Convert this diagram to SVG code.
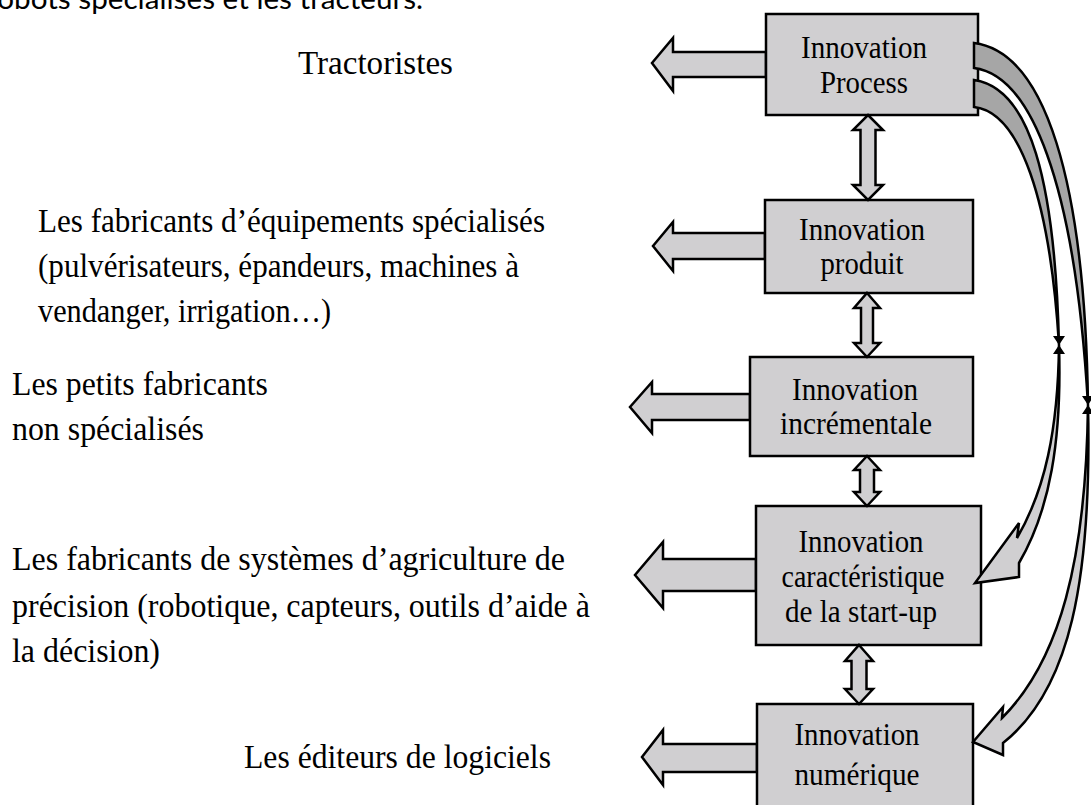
<svg xmlns="http://www.w3.org/2000/svg" width="1091" height="805" viewBox="0 0 1091 805">
<style>
.box{fill:#d0cfd1;stroke:#000;stroke-width:2.5}
.arr{fill:#d0cfd1;stroke:#000;stroke-width:2.5;stroke-linejoin:miter}
.back{fill:#a6a6a6;stroke:#000;stroke-width:2.5;stroke-linejoin:miter}
.tie{fill:#000;stroke:none}
.lbl{font-family:"Liberation Serif","Times New Roman",serif;font-size:32px;text-anchor:middle;fill:#000}
.side{font-family:"Liberation Serif","Times New Roman",serif;font-size:34px;fill:#000}
.top{font-family:Lato,"Liberation Sans",sans-serif;font-size:29px;fill:#000}
</style>
<rect width="1091" height="805" fill="#fff"/>
<text class="top" x="-13" y="9" textLength="436" lengthAdjust="spacingAndGlyphs">robots spécialisés et les tracteurs.</text>

<g id="connectors">
  <path class="arr" d="M766,52 H673 V38 L652,63 L673,91 V77 H766 Z"/>
  <path class="arr" d="M765,233 H673 V222 L653,246 L673,271 V259 H765 Z"/>
  <path class="arr" d="M750,394 H652 V382 L630,407 L652,433 V420 H750 Z"/>
  <path class="arr" d="M756,559 H663 V542 L635,575 L663,608 V591 H756 Z"/>
  <path class="arr" d="M757,744 H663 V730 L642,757 L663,785 V772 H757 Z"/>
</g>

<g id="n1">
  <rect class="box" x="766" y="14" width="212" height="101"/>
  <text class="lbl" x="864" y="58" textLength="126" lengthAdjust="spacingAndGlyphs">Innovation</text>
  <text class="lbl" x="864" y="93" textLength="88" lengthAdjust="spacingAndGlyphs">Process</text>
</g>
<g id="n2">
  <rect class="box" x="765" y="200" width="208" height="93"/>
  <text class="lbl" x="862" y="240" textLength="126" lengthAdjust="spacingAndGlyphs">Innovation</text>
  <text class="lbl" x="862" y="274" textLength="83" lengthAdjust="spacingAndGlyphs">produit</text>
</g>
<g id="n3">
  <rect class="box" x="750" y="357" width="223" height="99"/>
  <text class="lbl" x="855" y="400" textLength="126" lengthAdjust="spacingAndGlyphs">Innovation</text>
  <text class="lbl" x="856" y="434" textLength="152" lengthAdjust="spacingAndGlyphs">incrémentale</text>
</g>
<g id="n4">
  <rect class="box" x="756" y="506" width="225" height="139"/>
  <text class="lbl" x="861" y="552" textLength="125" lengthAdjust="spacingAndGlyphs">Innovation</text>
  <text class="lbl" x="863" y="587" textLength="163" lengthAdjust="spacingAndGlyphs">caractéristique</text>
  <text class="lbl" x="861" y="622" textLength="152" lengthAdjust="spacingAndGlyphs">de la start-up</text>
</g>
<g id="n5">
  <rect class="box" x="757" y="704" width="216" height="110"/>
  <text class="lbl" x="857" y="745" textLength="125" lengthAdjust="spacingAndGlyphs">Innovation</text>
  <text class="lbl" x="857" y="785" textLength="125" lengthAdjust="spacingAndGlyphs">numérique</text>
</g>

<g id="links">
  <path class="arr" d="M868,115 L883,130 H875.5 V185 H883 L868,200 L853,185 H860.5 V130 H853 Z"/>
  <path class="arr" d="M867,293 L880,308 H873 V343 H880 L867,357 L854,343 H861 V308 H854 Z"/>
  <path class="arr" d="M867,456 L880,470 H874 V492 H880 L867,506 L854,492 H860 V470 H854 Z"/>
  <path class="arr" d="M859,645 L873,661 H866.5 V689 H873 L859,704 L845,689 H851.5 V661 H845 Z"/>

  <path class="back" d="M974,43 C1045,52 1085,180 1088,405 C1075,180 1030,75 974,68 Z"/>
  <path class="arr" d="M1088,405 C1092,580 1070,690 1003,743 L1003,755 L973,742 L1003,707 L1002,718 C1060,660 1086,560 1088,405 Z"/>
  <path class="back" d="M974,80 C1030,88 1055,180 1059,345 C1050,200 1020,112 974,107 Z"/>
  <path class="arr" d="M1059,345 C1062,440 1050,510 1019,563 L1019,577 L975,583 L1019,523 L1017,538 C1045,490 1058,430 1059,345 Z"/>
  <path class="tie" d="M1053,336 H1065 L1059,345 Z M1053,354 H1065 L1059,345 Z"/>
  <path class="tie" d="M1082,396 H1094 L1088,405 Z M1082,414 H1094 L1088,405 Z"/>
</g>

<g id="t1"><text class="side" x="298" y="74" textLength="155" lengthAdjust="spacingAndGlyphs">Tractoristes</text></g>
<g id="t2">
  <text class="side" x="38" y="232" textLength="507" lengthAdjust="spacingAndGlyphs">Les fabricants d’équipements spécialisés</text>
  <text class="side" x="38" y="277" textLength="481" lengthAdjust="spacingAndGlyphs">(pulvérisateurs, épandeurs, machines à</text>
  <text class="side" x="38" y="322" textLength="293" lengthAdjust="spacingAndGlyphs">vendanger, irrigation…)</text>
</g>
<g id="t3">
  <text class="side" x="12" y="395" textLength="256" lengthAdjust="spacingAndGlyphs">Les petits fabricants</text>
  <text class="side" x="12" y="440" textLength="192" lengthAdjust="spacingAndGlyphs">non spécialisés</text>
</g>
<g id="t4">
  <text class="side" x="12" y="570" textLength="553" lengthAdjust="spacingAndGlyphs">Les fabricants de systèmes d’agriculture de</text>
  <text class="side" x="12" y="617" textLength="578" lengthAdjust="spacingAndGlyphs">précision (robotique, capteurs, outils d’aide à</text>
  <text class="side" x="12" y="662" textLength="148" lengthAdjust="spacingAndGlyphs">la décision)</text>
</g>
<g id="t5"><text class="side" x="244" y="768" textLength="307" lengthAdjust="spacingAndGlyphs">Les éditeurs de logiciels</text></g>
</svg>
